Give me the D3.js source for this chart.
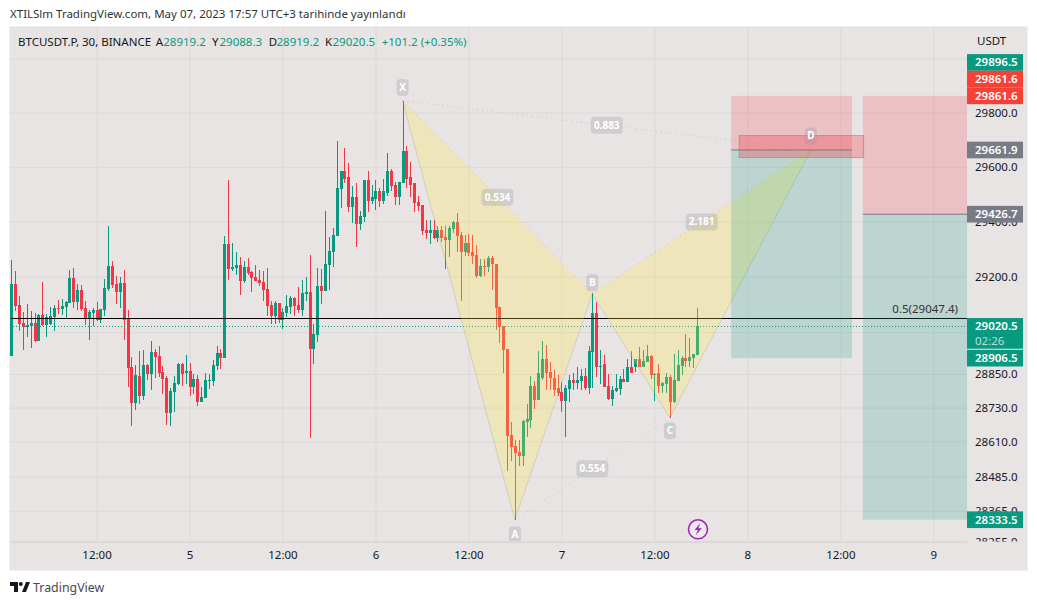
<!DOCTYPE html>
<html>
<head>
<meta charset="utf-8">
<script src="https://d3js.org/d3.v7.min.js"></script>
<style>
  html, body { margin: 0; padding: 0; background: #fff; }
  svg { display: block; }
  text { font-family: "Noto Sans", sans-serif; }
</style>
</head>
<body>
<div class="content"></div>
<script>
// 30 min bars, bar 0 = May 4 01:00
const open = [
  28914,29174,29099,29033,29020,29022,29033,28968,29062,29026,29030,29055,29088,29084,29091,29105,29196,29108,29152,29088,
  29048,29069,29080,29044,29080,29156,29240,29174,29145,29178,29048,28876,28748,28843,28771,28883,28850,28930,28914,28858,
  28836,28709,28786,28815,28887,28854,28861,28804,28832,28751,28764,28825,28825,28880,28925,28907,29318,29228,29232,29243,
  29185,29236,29217,29199,29188,29181,29156,29097,29058,29105,29044,29069,29091,29123,29097,29080,29137,29145,28939,28990,
  29167,29148,29243,29290,29349,29517,29583,29561,29454,29488,29392,29418,29553,29476,29484,29513,29476,29506,29583,29532,
  29491,29542,29659,29561,29539,29472,29461,29370,29359,29370,29341,29370,29345,29333,29374,29399,29352,29290,29322,29291,
  29280,29203,29240,29236,29269,29247,29091,29023,28940,28634,28594,28572,28557,28679,28686,28807,28756,28836,28904,28858,
  28836,28800,28785,28754,28796,28829,28818,28825,28843,28800,28929,29070,28876,28886,28807,28760,28789,28796,28832,28821,
  28876,28876,28904,28876,28893,28914,28849,28854,28807,28814,28840,28751,28825,28879,28908,28897,28908,28919.2
];
const high = [
  29261,29221,29130,29073,29102,29077,29069,29066,29181,29066,29091,29099,29116,29119,29112,29225,29232,29174,29170,29112,
  29080,29088,29108,29084,29192,29384,29258,29203,29200,29225,29080,28911,28883,28933,28936,28887,28968,28940,28950,28880,
  28843,28800,28843,28890,28890,28918,28890,28850,28847,28804,28854,28850,28900,28950,28940,29346,29553,29322,29290,29272,
  29258,29268,29221,29243,29225,29221,29232,29112,29112,29105,29086,29134,29130,29126,29163,29188,29199,29279,29030,29232,
  29228,29440,29345,29378,29695,29583,29670,29615,29528,29539,29440,29553,29586,29535,29550,29524,29557,29652,29593,29546,
  29546,29844,29677,29619,29542,29495,29461,29407,29407,29407,29385,29385,29385,29385,29403,29432,29363,29352,29355,29352,
  29315,29265,29265,29276,29274,29247,29091,29023,28940,28679,28615,28615,28686,28741,28843,28825,28932,28969,28954,28893,
  28865,28847,28821,28811,28847,28854,28876,28869,28872,28951,29141,29110,28936,28919,28851,28807,28851,28843,28869,28904,
  28932,28904,28947,28936,28954,28918,28854,28886,28821,28854,28847,28921,28936,28915,28994,28980,28921,29088.3
];
const low = [
  28914,29077,29005,28936,28983,28943,28965,28968,29022,28983,29026,29005,29066,29062,29048,29105,29088,29080,29077,29026,
  28972,29022,29040,29033,29059,29149,29159,29102,29088,28972,28804,28665,28722,28744,28757,28829,28793,28836,28840,28779,
  28669,28665,28715,28811,28808,28815,28771,28779,28737,28751,28764,28797,28808,28865,28869,28907,29188,29221,29207,29134,
  29178,29207,29145,29185,29167,29112,29058,29030,29030,29033,29012,29055,29066,29058,29069,29058,29112,28622,28887,28965,
  29102,29148,29152,29236,29349,29448,29539,29436,29396,29307,29370,29399,29436,29465,29443,29454,29465,29495,29513,29461,
  29461,29542,29521,29488,29436,29440,29352,29337,29318,29337,29326,29326,29228,29272,29359,29290,29112,29276,29273,29247,
  29196,29200,29203,29218,29152,29009,28962,28854,28504,28540,28333.5,28522,28522,28626,28657,28726,28756,28829,28792,28792,
  28771,28771,28715,28626,28751,28792,28796,28792,28792,28778,28800,28840,28814,28803,28756,28734,28785,28774,28821,28821,
  28854,28858,28876,28876,28893,28832,28754,28781,28781,28781,28694,28748,28825,28847,28876,28876,28872,28919.2
];
const close = [
  29174,29095,29030,29020,29026,29033,28968,29062,29026,29055,29059,29088,29085,29095,29108,29196,29108,29152,29084,29048,
  29073,29080,29044,29084,29159,29240,29170,29145,29178,29044,28872,28748,28847,28771,28883,28850,28930,28911,28854,28832,
  28709,28790,28819,28887,28850,28861,28804,28832,28751,28768,28829,28829,28883,28925,28907,29318,29228,29236,29243,29185,
  29236,29214,29196,29185,29178,29152,29095,29058,29105,29044,29073,29095,29123,29095,29080,29141,29145,28939,28994,29167,
  29148,29247,29294,29352,29521,29583,29557,29454,29488,29392,29421,29553,29476,29488,29513,29476,29510,29583,29528,29491,
  29546,29659,29557,29535,29469,29458,29367,29359,29370,29341,29370,29341,29333,29378,29399,29349,29290,29322,29287,29276,
  29203,29240,29236,29269,29247,29087,29020,28936,28630,28590,28568,28557,28683,28690,28807,28756,28854,28904,28854,28836,
  28792,28781,28754,28800,28829,28818,28829,28843,28800,28932,29070,28876,28879,28803,28760,28792,28800,28832,28821,28876,
  28854,28904,28876,28897,28914,28847,28851,28807,28818,28840,28751,28829,28882,28908,28897,28911,28921,29020.5
];

const priceTicks = [30000,29800,29600,29400,29200,29000,28850,28730,28610,28485,28365,28255];
const hiddenPriceLabels = [30000,29000];
const timeTickBars = [22,46,70,94,118,142,166,190,214,238];
const timeLabels = ["12:00","5","12:00","6","12:00","7","12:00","8","12:00","9"];

// harmonic pattern, bar + price
const patternNames = ["X","A","B","C","D"];
const patternBars = [101,130,150,170,206.4];
const patternPrices = [29844,28333.5,29138,28694,29661.9];
const patternLabelOffsets = [-13,15,-11,13,-14];
const ratioPairs = [[0,4],[0,2],[2,4],[1,3]];
const ratioLabels = ["0.883","0.534","2.181","0.554"];

const longBoxBars = [[185.8,217],[219.8,260]];
const longBoxPrices = [[29861.6,29661.9,28906.5],[29861.6,29426.7,28333.5]];
const zoneBars = [187.9,220];
const zonePrices = [29715,29634];
const midLevel = 29047.4;
const lastPrice = 29020.5;

const tagPrices = [29896.5,29861.6,29861.6,29661.9,29426.7,29020.5,28906.5,28333.5];
const tagColors = ["#089981","#f44336","#f44336","#787b86","#787b86","#089981","#089981","#089981"];

const width = 1037, height = 605;
const pane = { left: 10, right: 967, top: 27, bottom: 541.5 };
const panelRight = 1027, panelBottom = 570;
const bg = "#e9e4e4", gridColor = "#dcd8d8", textColor = "#131722";
const green = "#089981", red = "#f23645";

const svg = d3.select(".content").append("svg")
    .attr("width", width)
    .attr("height", height);

svg.append("text").attr("x", 10).attr("y", 18)
    .attr("font-size", 11.5).attr("fill", "#333")
    .text("XTILSlm TradingView.com, May 07, 2023 17:57 UTC+3 tarihinde yayınlandı");

svg.append("rect")
    .attr("x", pane.left - 0.5).attr("y", pane.top - 0.5)
    .attr("width", panelRight - pane.left + 1).attr("height", panelBottom - pane.top + 1)
    .attr("fill", bg).attr("stroke", "#eef0f6");

svg.append("clipPath").attr("id", "pane").append("rect")
    .attr("x", pane.left).attr("y", pane.top)
    .attr("width", pane.right - pane.left).attr("height", pane.bottom - pane.top);
svg.append("clipPath").attr("id", "axis").append("rect")
    .attr("x", pane.right).attr("y", pane.top)
    .attr("width", panelRight - pane.right).attr("height", pane.bottom - pane.top);

// bar index to x, price to y (log scale like the original)
const x = d3.scaleLinear().domain([0, 177]).range([11.3, 697]);
const y = d3.scaleLog().domain([29800, 28333.5]).range([112.5, 519.7]);

// grid
svg.append("g")
    .attr("transform", `translate(${pane.left},0)`)
    .call(d3.axisRight(y).tickValues(priceTicks).tickSize(pane.right - pane.left).tickFormat(""))
    .call(g => g.select(".domain").remove())
    .call(g => g.selectAll("line").attr("stroke", gridColor));
svg.append("g")
    .attr("transform", `translate(0,${pane.bottom})`)
    .call(d3.axisTop(x).tickValues(timeTickBars).tickSize(pane.bottom - pane.top).tickFormat(""))
    .call(g => g.select(".domain").remove())
    .call(g => g.selectAll("line").attr("stroke", gridColor));

const chart = svg.append("g").attr("clip-path", "url(#pane)");

// candles
const bars = d3.range(open.length);
const isUp = i => close[i] >= open[i];

chart.selectAll(".wick")
    .data(bars)
    .enter().append("line")
    .attr("class", "wick")
    .attr("x1", i => Math.round(x(i)) + 0.5)
    .attr("x2", i => Math.round(x(i)) + 0.5)
    .attr("y1", i => y(high[i]))
    .attr("y2", i => y(low[i]))
    .attr("stroke", i => isUp(i) ? green : red)
    .attr("shape-rendering", "crispEdges");

chart.selectAll(".body")
    .data(bars)
    .enter().append("rect")
    .attr("class", "body")
    .attr("x", i => Math.round(x(i)) - 1)
    .attr("y", i => y(Math.max(open[i], close[i])))
    .attr("width", 3)
    .attr("height", i => Math.max(1, Math.abs(y(open[i]) - y(close[i]))))
    .attr("fill", i => isUp(i) ? green : red)
    .attr("shape-rendering", "crispEdges");

// level lines
chart.append("line")
    .attr("x1", x(0)).attr("x2", pane.right)
    .attr("y1", y(midLevel)).attr("y2", y(midLevel))
    .attr("stroke", "#000")
    .attr("shape-rendering", "crispEdges");
chart.append("line")
    .attr("x1", pane.left).attr("x2", pane.right)
    .attr("y1", y(lastPrice)).attr("y2", y(lastPrice))
    .attr("stroke", green).attr("stroke-dasharray", "1 2")
    .attr("shape-rendering", "crispEdges");

// pattern triangles
const pt = i => [x(patternBars[i]), y(patternPrices[i])];
const edgeColor = "rgba(120,123,134,0.22)";
[[0,1,2],[2,3,4]].forEach(t => {
    chart.append("path")
        .attr("d", d3.line()(t.map(pt)) + "Z")
        .attr("fill", "rgba(255,235,59,0.25)");
});
[[0,1],[1,2],[2,3],[3,4]].forEach(e => {
    chart.append("path").attr("d", d3.line()(e.map(pt)))
        .attr("fill", "none").attr("stroke", edgeColor);
});
ratioPairs.forEach(e => {
    chart.append("path").attr("d", d3.line()(e.map(pt)))
        .attr("fill", "none").attr("stroke", "rgba(120,123,134,0.3)").attr("stroke-dasharray", "1 4");
});

// position boxes
longBoxBars.forEach((b, i) => {
    const p = longBoxPrices[i];
    chart.append("rect")
        .attr("x", x(b[0])).attr("y", y(p[0]))
        .attr("width", x(b[1]) - x(b[0])).attr("height", y(p[1]) - y(p[0]))
        .attr("fill", "rgba(242,54,69,0.2)");
    chart.append("rect")
        .attr("x", x(b[0])).attr("y", y(p[1]))
        .attr("width", x(b[1]) - x(b[0])).attr("height", y(p[2]) - y(p[1]))
        .attr("fill", "rgba(8,153,129,0.2)");
    chart.append("line")
        .attr("x1", x(b[0])).attr("x2", x(b[1]))
        .attr("y1", y(p[1])).attr("y2", y(p[1]))
        .attr("stroke", "#787b86");
});
chart.append("rect")
    .attr("x", x(zoneBars[0])).attr("y", y(zonePrices[0]))
    .attr("width", x(zoneBars[1]) - x(zoneBars[0])).attr("height", y(zonePrices[1]) - y(zonePrices[0]))
    .attr("fill", "rgba(242,54,69,0.3)")
    .attr("stroke", "rgba(150,130,80,0.55)");

// pattern labels
function chip(cx, cy, w, label) {
    chart.append("rect")
        .attr("x", cx - w / 2).attr("y", cy - 8.5)
        .attr("width", w).attr("height", 17).attr("rx", 4)
        .attr("fill", "rgba(150,152,162,0.3)");
    chart.append("text")
        .attr("x", cx).attr("y", cy + 3.5)
        .attr("text-anchor", "middle")
        .attr("font-size", 10).attr("font-weight", "bold")
        .attr("fill", "#fff")
        .text(label);
}
patternNames.forEach((n, i) => {
    const p = pt(i);
    chip(p[0], p[1] + patternLabelOffsets[i], 12, n);
});
ratioPairs.forEach((e, i) => {
    const a = pt(e[0]), b = pt(e[1]);
    chip((a[0] + b[0]) / 2, (a[1] + b[1]) / 2, 32, ratioLabels[i]);
});

chart.append("text")
    .attr("x", 958).attr("y", y(midLevel) - 6)
    .attr("text-anchor", "end")
    .attr("font-size", 11.5).attr("fill", "#333")
    .text(`0.5(${midLevel})`);

// price axis, clip goes on an outer group so it stays in page coordinates
svg.append("g")
    .attr("clip-path", "url(#axis)")
    .append("g")
    .attr("transform", `translate(${pane.right},0)`)
    .call(d3.axisRight(y).tickValues(priceTicks.filter(d => !hiddenPriceLabels.includes(d)))
        .tickSize(0).tickPadding(8).tickFormat(d3.format(".1f")))
    .call(g => g.select(".domain").remove())
    .call(g => g.selectAll("text").attr("font-size", 11.5).attr("font-family", "Noto Sans").attr("fill", textColor));

svg.append("text").attr("x", 977).attr("y", 45)
    .attr("font-size", 11.5).attr("fill", textColor).text("USDT");

// price tags, the top ones stack upward
const tagH = 16.7;
const tagCenters = tagPrices.map(d => y(d));
for (let i = 1; i >= 0; i--) {
    tagCenters[i] = Math.min(tagCenters[i], tagCenters[i + 1] - tagH);
}
tagPrices.forEach((d, i) => {
    const last = d === lastPrice;
    svg.append("rect")
        .attr("x", pane.right)
        .attr("y", tagCenters[i] - tagH / 2)
        .attr("width", 56)
        .attr("height", last ? 30.7 : tagH)
        .attr("fill", tagColors[i]);
    svg.append("text")
        .attr("x", pane.right + 8).attr("y", tagCenters[i] + 4)
        .attr("font-size", 11.5).attr("font-weight", 600).attr("fill", "#fff")
        .text(d3.format(".1f")(d));
    if (last) {
        svg.append("text")
            .attr("x", pane.right + 8).attr("y", tagCenters[i] + 18.5)
            .attr("font-size", 11.5).attr("fill", "#fff").attr("fill-opacity", 0.7)
            .text("02:26");
    }
});

// time axis
svg.append("g")
    .attr("transform", `translate(0,${pane.bottom})`)
    .call(d3.axisBottom(x).tickValues(timeTickBars).tickSize(0).tickPadding(9)
        .tickFormat((d, i) => timeLabels[i]))
    .call(g => g.select(".domain").remove())
    .call(g => g.selectAll("text").attr("font-size", 11.5).attr("font-family", "Noto Sans").attr("fill", textColor));
svg.append("line")
    .attr("x1", pane.left).attr("x2", pane.right)
    .attr("y1", pane.bottom).attr("y2", pane.bottom)
    .attr("stroke", gridColor);

// legend
const legendBits = [
    [18, "BTCUSDT.P, 30, BINANCE", textColor],
    [155.7, "A", textColor], [163.3, "28919.2", green],
    [212, "Y", textColor], [219.5, "29088.3", green],
    [268.7, "D", textColor], [276.5, "28919.2", green],
    [325, "K", textColor], [332.5, "29020.5", green],
    [381.7, "+101.2 (+0.35%)", green]
];
svg.selectAll(".legend")
    .data(legendBits)
    .enter().append("text")
    .attr("class", "legend")
    .attr("x", d => d[0]).attr("y", 46)
    .attr("font-size", 11.5)
    .attr("fill", d => d[2])
    .text(d => d[1]);

// lightning icon
svg.append("circle")
    .attr("cx", 698).attr("cy", 529.3).attr("r", 9.5)
    .attr("fill", "#efe8ef").attr("stroke", "#9c27b0").attr("stroke-width", 1.6);
svg.append("path")
    .attr("d", "M700.5 523 L694.5 530 H698 L695.5 535.5 L701.8 528.3 H698.3 Z")
    .attr("fill", "#9c27b0");

// footer logo
svg.append("path")
    .attr("d", "M10 582 H18 V592 H14 V586 H10 Z M22 592 L26 582 H30 L26 592 Z")
    .attr("fill", "#131722");
svg.append("circle").attr("cx", 20.8).attr("cy", 584).attr("r", 2).attr("fill", "#131722");
svg.append("text").attr("x", 33).attr("y", 592)
    .attr("font-size", 12.4).attr("fill", "#4a4a4a")
    .text("TradingView");
</script>
</body>
</html>
